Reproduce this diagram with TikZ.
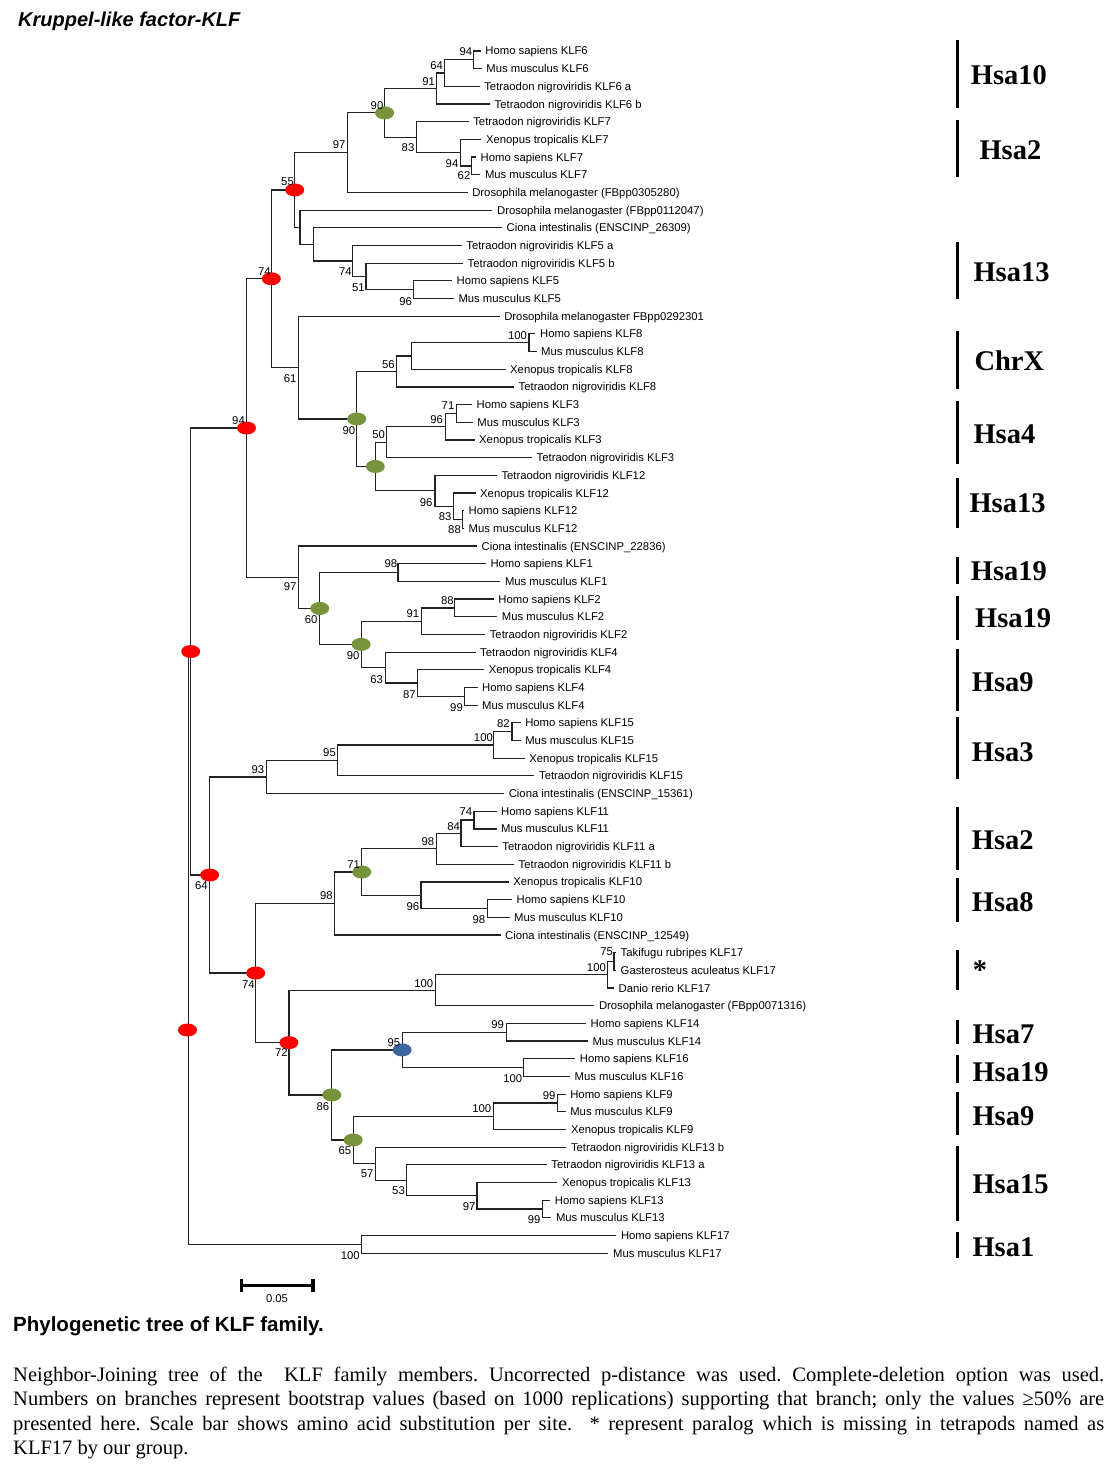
\documentclass[tikz,border=0pt]{standalone}
\usepackage{fontspec}
\setmainfont{Liberation Sans}
\newfontfamily\tnr{Liberation Serif}
\usetikzlibrary{calc}
\frenchspacing
\newcommand\leaffont{\fontsize{11.3}{13}\selectfont}
\newcommand\cl[4]{%
  \path let \p1=(#3), \p2=(#4) in coordinate (#1) at (#2pt,{0.5*\y1+0.5*\y2});
  \draw[br] (#3) -| (#1) |- (#4);}
\definecolor{dotred}{HTML}{FF0000}
\definecolor{dotgreen}{HTML}{77933C}
\definecolor{dotblue}{HTML}{3C679E}
\definecolor{linegray}{HTML}{222222}
\begin{document}
\begin{tikzpicture}[x=1pt,y=-1pt,
  br/.style={draw=linegray,line width=1.2pt},
  lf/.style={anchor=base west,inner sep=0pt,font=\leaffont,xshift=4.5pt,yshift=-4pt},
  bs/.style={anchor=base,inner sep=0pt,font=\leaffont,yshift=-4pt},
  chrbar/.style={line width=3.3pt,draw=black},
  chrlab/.style={anchor=base west,inner sep=0pt,font=\tnr\bfseries\fontsize{28.5}{30}\selectfont,yshift=-9.4pt},
  rdot/.style={fill=dotred},
  gdot/.style={fill=dotgreen},
  bdot/.style={fill=dotblue},
  capline/.style={anchor=base west,inner sep=0pt,font=\tnr\fontsize{20.5}{25}\selectfont}]
\fill[white] (0,0) rectangle (1117,1474);
\useasboundingbox (0,0) rectangle (1117,1474);

% ---------------- leaves ----------------
\foreach \i/\lx/\lt in {
0/480.7/Homo sapiens KLF6,
1/481.7/Mus musculus KLF6,
2/479.6/Tetraodon nigroviridis KLF6 a,
3/490/Tetraodon nigroviridis KLF6 b,
4/468.6/Tetraodon nigroviridis KLF7,
5/481.4/Xenopus tropicalis KLF7,
6/476/Homo sapiens KLF7,
7/480.3/Mus musculus KLF7,
8/467.6/Drosophila melanogaster (FBpp0305280),
9/492.4/Drosophila melanogaster (FBpp0112047),
10/502/Ciona intestinalis (ENSCINP\_26309),
11/461.7/Tetraodon nigroviridis KLF5 a,
12/463/Tetraodon nigroviridis KLF5 b,
13/452/Homo sapiens KLF5,
14/453.8/Mus musculus KLF5,
15/499.6/Drosophila melanogaster FBpp0292301,
16/535.4/Homo sapiens KLF8,
17/536.5/Mus musculus KLF8,
18/505.5/Xenopus tropicalis KLF8,
19/514/Tetraodon nigroviridis KLF8,
20/472/Homo sapiens KLF3,
21/472.7/Mus musculus KLF3,
22/474.5/Xenopus tropicalis KLF3,
23/532/Tetraodon nigroviridis KLF3,
24/496.8/Tetraodon nigroviridis KLF12,
25/475.5/Xenopus tropicalis KLF12,
26/464/Homo sapiens KLF12,
27/464/Mus musculus KLF12,
28/476.9/Ciona intestinalis (ENSCINP\_22836),
29/485.8/Homo sapiens KLF1,
30/500.3/Mus musculus KLF1,
31/493.7/Homo sapiens KLF2,
32/497.2/Mus musculus KLF2,
33/485.1/Tetraodon nigroviridis KLF2,
34/475.5/Tetraodon nigroviridis KLF4,
35/484.1/Xenopus tropicalis KLF4,
36/477.5/Homo sapiens KLF4,
37/477.5/Mus musculus KLF4,
38/520.6/Homo sapiens KLF15,
39/520.6/Mus musculus KLF15,
40/524.7/Xenopus tropicalis KLF15,
41/534.4/Tetraodon nigroviridis KLF15,
42/504.1/Ciona intestinalis (ENSCINP\_15361),
43/496.5/Homo sapiens KLF11,
44/496.5/Mus musculus KLF11,
45/497.7/Tetraodon nigroviridis KLF11 a,
46/514/Tetraodon nigroviridis KLF11 b,
47/508.6/Xenopus tropicalis KLF10,
48/512/Homo sapiens KLF10,
49/509.5/Mus musculus KLF10,
50/500.5/Ciona intestinalis (ENSCINP\_12549),
51/616/Takifugu rubripes KLF17,
52/616/Gasterosteus aculeatus KLF17,
53/614/Danio rerio KLF17,
54/594.3/Drosophila melanogaster (FBpp0071316),
55/586/Homo sapiens KLF14,
56/587.8/Mus musculus KLF14,
57/575.2/Homo sapiens KLF16,
58/570/Mus musculus KLF16,
59/565.6/Homo sapiens KLF9,
60/565.6/Mus musculus KLF9,
61/566.3/Xenopus tropicalis KLF9,
62/566.3/Tetraodon nigroviridis KLF13 b,
63/546.7/Tetraodon nigroviridis KLF13 a,
64/557.4/Xenopus tropicalis KLF13,
65/550.2/Homo sapiens KLF13,
66/551.3/Mus musculus KLF13,
67/616.3/Homo sapiens KLF17,
68/608.4/Mus musculus KLF17}
{\coordinate (L\i) at (\lx,{51+17.68*\i}); \node[lf] (t\i) at (L\i) {\lt};}

% ---------------- internal nodes ----------------
\cl{n94a}{473.8}{L0}{L1}
\cl{n64a}{444.5}{n94a}{L2}
\cl{n91}{436.6}{n64a}{L3}
\cl{n62}{471.7}{L6}{L7}
\cl{n94b}{460.7}{L5}{n62}
\cl{n83}{416.3}{L4}{n94b}
\cl{n90a}{384.6}{n91}{n83}
\cl{n97a}{347.4}{n90a}{L8}
\cl{n96a}{413.2}{L13}{L14}
\cl{n51}{366}{L12}{n96a}
\cl{n74a}{352.2}{L11}{n51}
\cl{nC}{313.6}{L10}{n74a}
\cl{nB}{299.9}{L9}{nC}
\cl{n55}{294.7}{n97a}{nB}
\cl{n100a}{528.9}{L16}{L17}
\cl{nK8}{411.4}{n100a}{L18}
\cl{n56}{396.3}{nK8}{L19}
\cl{n71a}{456.6}{L20}{L21}
\cl{n96b}{445.2}{n71a}{L22}
\cl{n50}{386.6}{n96b}{L23}
\cl{n88a}{462.4}{L26}{L27}
\cl{n83b}{453.8}{L25}{n88a}
\cl{n96c}{434.9}{L24}{n83b}
\cl{n0g}{375.3}{n50}{n96c}
\cl{n90b}{356.7}{n56}{n0g}
\cl{n61}{298.8}{L15}{n90b}
\cl{n74r}{271.3}{n55}{n61}
\cl{n98a}{398}{L29}{L30}
\cl{n88b}{454.5}{L31}{L32}
\cl{n91b}{421.4}{n88b}{L33}
\cl{n99a}{464.5}{L36}{L37}
\cl{n87}{417.3}{L35}{n99a}
\cl{n63}{385.3}{L34}{n87}
\cl{n90c}{361.1}{n91b}{n63}
\cl{n60}{319.8}{n98a}{n90c}
\cl{n97b}{298.8}{L28}{n60}
\cl{n94r}{246.5}{n74r}{n97b}
\cl{n82}{512}{L38}{L39}
\cl{n100b}{493.8}{n82}{L40}
\cl{n95}{337.7}{n100b}{L41}
\cl{n93}{266.4}{n95}{L42}
\cl{n74c}{474}{L43}{L44}
\cl{n84}{461}{n74c}{L45}
\cl{n98b}{436.1}{n84}{L46}
\cl{n98c}{487.5}{L48}{L49}
\cl{n96d}{421}{L47}{n98c}
\cl{n71b}{361.8}{n98b}{n96d}
\cl{n98d}{334.4}{n71b}{L50}
\cl{n75}{614}{L51}{L52}
\cl{n100c}{607.5}{n75}{L53}
\cl{n100d}{435.2}{n100c}{L54}
\cl{n99b}{506.4}{L55}{L56}
\cl{n100e}{523.6}{L57}{L58}
\cl{n95b}{402.1}{n99b}{n100e}
\cl{n99c}{557.4}{L59}{L60}
\cl{n100f}{493.1}{n99c}{L61}
\cl{n99d}{542.4}{L65}{L66}
\cl{n97c}{477}{L64}{n99d}
\cl{n53}{406.4}{L63}{n97c}
\cl{n57}{375.3}{L62}{n53}
\cl{n65}{353.2}{n100f}{n57}
\cl{n86}{331.8}{n95b}{n65}
\cl{n72}{288.9}{n100d}{n86}
\cl{n74d}{255.7}{n98d}{n72}
\cl{n64r}{209.6}{n93}{n74d}
\cl{nA}{190.7}{n94r}{n64r}
\cl{n100g}{361.8}{L67}{L68}
\cl{nR}{188.3}{nA}{n100g}

% ---------------- node dots ----------------
\foreach \n in {n55,n74r,n94r,nA,n64r,n74d,n72}
  {\fill[rdot] (\n) ellipse [x radius=9.5pt,y radius=6.5pt];}
\coordinate (rootdot) at (187.5,1030);
\fill[rdot] (rootdot) ellipse [x radius=9.5pt,y radius=6.5pt];
\foreach \n in {n90a,n90b,n0g,n60,n90c,n71b,n86,n65}
  {\fill[gdot] (\n) ellipse [x radius=9.5pt,y radius=6.5pt];}
\fill[bdot] (n95b) ellipse [x radius=9.5pt,y radius=6.5pt];

% ---------------- bootstrap values ----------------
\foreach \v/\bx/\by [count=\k] in {
94/465.9/51.7, 64/436.6/65.7, 91/428.7/81.7, 90/377/106, 97/339.1/145,
83/408/147.3, 94/452/163.3, 62/464/175.7, 55/287.5/181.7, 74/345.3/271.7,
51/358.4/287.7, 96/405.6/301, 74/264.4/271, 100/517.5/335, 56/388.4/364.3,
61/290.2/378.3, 71/448/405, 96/436.6/419.3, 90/348.8/430.7, 94/238.5/420,
50/378.7/434, 96/426.2/502.3, 83/445.2/516.7, 88/454.5/529.3, 98/390.8/563.3,
97/290.2/586.7, 60/311.2/619.3, 88/447.3/600, 91/412.8/613.3, 90/353.2/655,
63/376.6/679, 87/409.4/694, 99/456.5/707.3, 82/503.4/723.3, 100/483.4/737.3,
95/329.5/752.7, 93/257.8/769.3, 74/465.8/811.7, 84/453.6/826.7, 98/427.9/841,
71/353.6/864.3, 64/201.4/885.7, 98/326.3/895, 96/412.8/906, 98/478.9/919.3,
74/248.3/984.3, 75/606.6/951.7, 100/596.4/967.7, 100/423.8/983.3, 99/497.7/1024.3,
95/393.9/1042.3, 72/281.4/1052.7, 100/512.7/1078.3, 99/549.2/1095, 100/481.7/1108.3,
86/322.8/1106, 65/344.9/1150, 57/367.1/1173.3, 53/398.5/1190.7, 97/469.2/1206.7,
99/534.1/1219.3, 100/350.3/1255}
{\node[bs] (b\k) at (\bx,\by) {\v};}

% ---------------- scale bar ----------------
\coordinate (sbl) at (239.6,1285.5);
\coordinate (sbr) at (314.6,1285.5);
\draw[line width=3.4pt] (sbl) -- (sbr);
\draw[line width=3.4pt] ([xshift=1.7pt,yshift=6.5pt]sbl) -- ([xshift=1.7pt,yshift=-6.5pt]sbl);
\draw[line width=3.4pt] ([xshift=-1.7pt,yshift=6.5pt]sbr) -- ([xshift=-1.7pt,yshift=-6.5pt]sbr);
\node[bs] (sbtext) at (277,1298) {0.05};

% ---------------- chromosome bars ----------------
\foreach \ya/\yb/\tx/\lxx/\ly [count=\k] in {
40/108/Hsa10/970.7/75, 120/177/Hsa2/979.3/150, 242/299/Hsa13/973.3/272,
331/389/ChrX/974.3/361, 401/464/Hsa4/973.3/434, 478/528/Hsa13/969.3/503,
557/584/Hsa19/970.7/571, 596/640/Hsa19/975/618, 649/711/Hsa9/971.7/682,
717/779/Hsa3/971.7/752, 807/870/Hsa2/971.7/840, 878/922/Hsa8/971.7/902,
950/990/\vphantom{H}*/972.7/970, 1020/1044/Hsa7/972.3/1034, 1055/1083/Hsa19/972.3/1072,
1092/1135/Hsa9/972.3/1116, 1146/1221/Hsa15/972.3/1184, 1232/1258/Hsa1/972.3/1247}
{\draw[chrbar] (957.5,\ya) -- (957.5,\yb);
 \node[chrlab] (c\k) at (\lxx,\ly) {\tx};}

% ---------------- titles and caption ----------------
\node[anchor=base west,inner sep=0pt,font=\bfseries\itshape\fontsize{20}{22}\selectfont] (title) at (18,27) {Kruppel-like factor-KLF};
\node[anchor=base west,inner sep=0pt,font=\bfseries\fontsize{20.5}{22}\selectfont] (figcap) at (13,1331) {Phylogenetic tree of KLF family.};
\node[capline] (cap1) at (13,1381) {\hbox to 1091pt{Neighbor-Joining tree of the\ \ KLF family members. Uncorrected p-distance was used. Complete-deletion option was used.}};
\node[capline] (cap2) at (13,1405.6) {\hbox to 1091pt{Numbers on branches represent bootstrap values (based on 1000 replications) supporting that branch; only the values ≥50\% are}};
\node[capline] (cap3) at (13,1430.2) {\hbox to 1091pt{presented here. Scale bar shows amino acid substitution per site.\ \ * represent paralog which is missing in tetrapods named as}};
\node[capline] (cap4) at (13,1454.8) {KLF17 by our group.};
\end{tikzpicture}
\end{document}
